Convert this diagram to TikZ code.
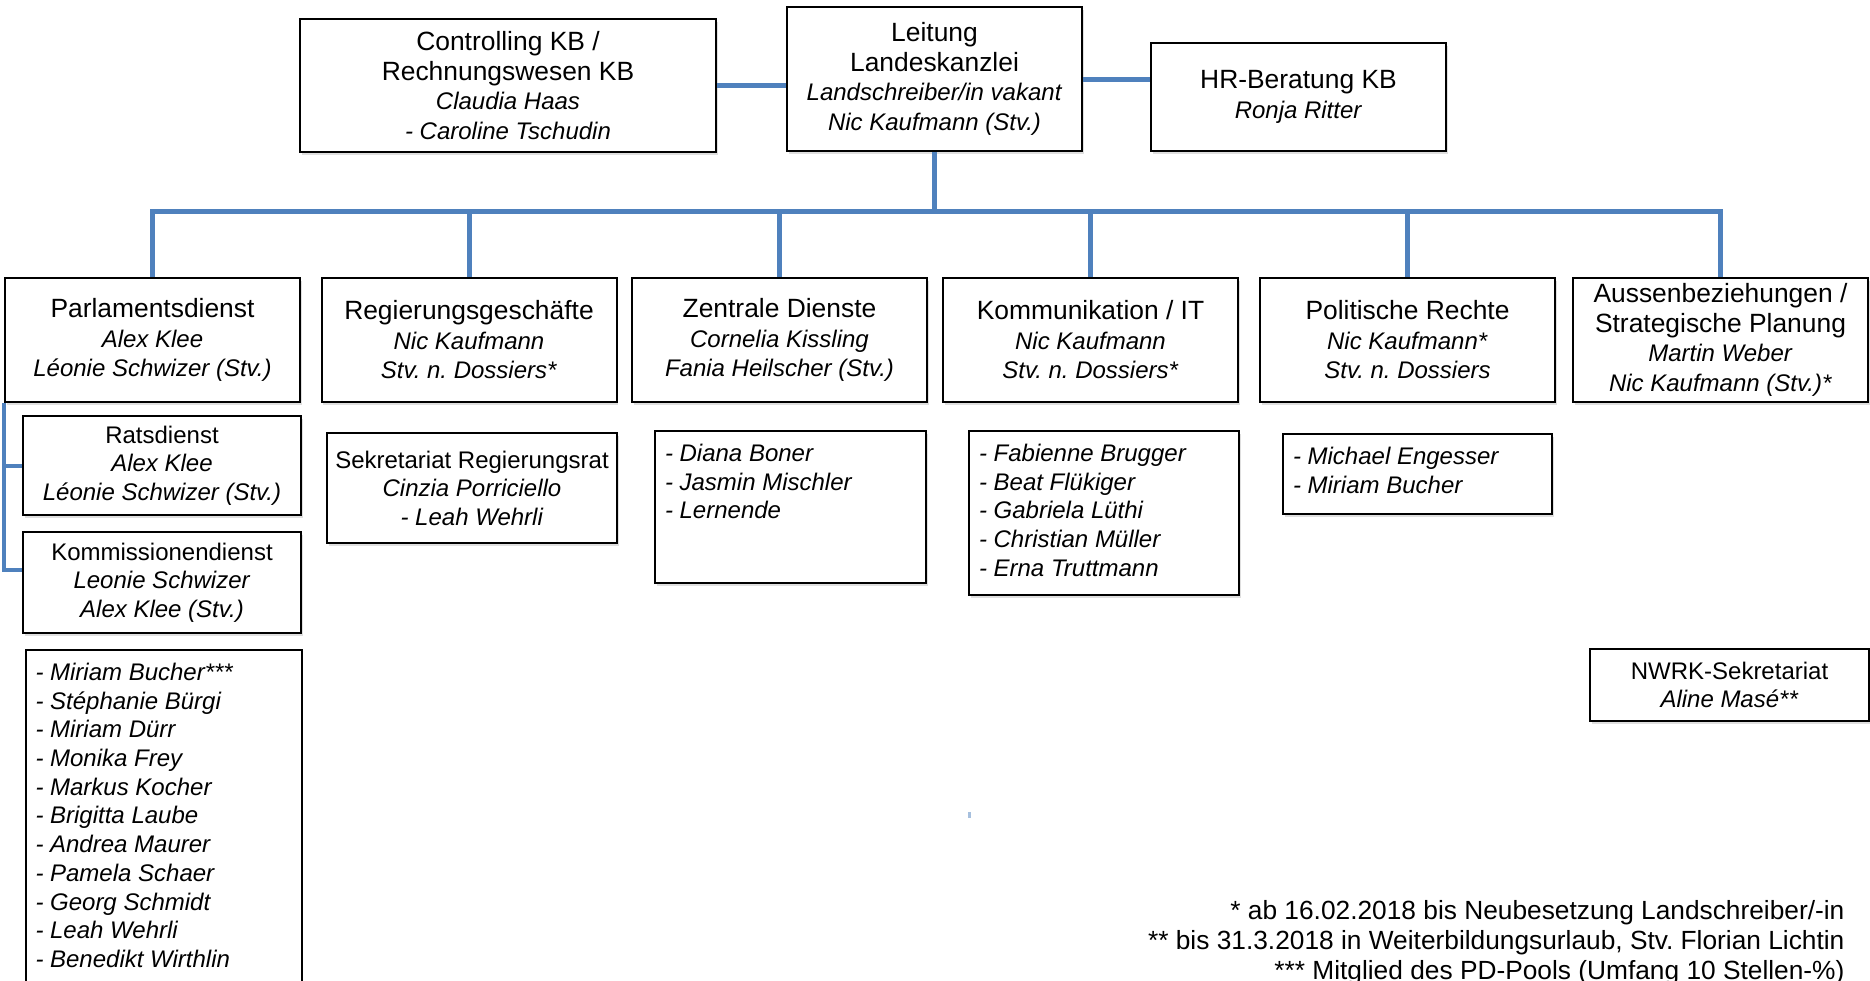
\documentclass[tikz,border=0pt]{standalone}
\usepackage{fontspec}
\setmainfont{Liberation Sans}
\usetikzlibrary{shadows}
\definecolor{lkblue}{RGB}{79,129,189}
\frenchspacing
\newcommand{\head}[1]{{\fontsize{26.4}{29.5}\selectfont #1}}
\newcommand{\namelist}[3]{\parbox[t][#1][t]{#2}{#3}}

\begin{document}
\begin{tikzpicture}[x=1pt, y=-1pt]
  \tikzset{
    unit/.style={draw=black, line width=2pt, fill=white, align=center, inner sep=0pt,
      drop shadow={shadow xshift=1.5pt, shadow yshift=-3pt, opacity=0.25},
      minimum width=295pt, minimum height=124pt, font=\fontsize{24}{29.5}\selectfont},
    subunit/.style={unit, font=\fontsize{24}{28.5}\selectfont},
    listbox/.style={unit, anchor=north west, align=left, inner xsep=10pt, inner ysep=13pt,
      minimum width=0pt, minimum height=0pt, font=\fontsize{24}{28.7}\selectfont\itshape},
    link/.style={draw=lkblue, line width=5pt, line join=miter}
  }
  \useasboundingbox (0,0) rectangle (1870,980);
  \node[unit, minimum width=416pt, minimum height=133pt] (ctrl) at (508,85.5)
    {\head{Controlling KB /}\\\head{Rechnungswesen KB}\\\textit{Claudia Haas}\\\textit{- Caroline Tschudin}};
  \node[unit, minimum height=144pt] (lead) at (934.5,79)
    {\head{Leitung}\\\head{Landeskanzlei}\\\textit{Landschreiber/in vakant}\\\textit{Nic Kaufmann (Stv.)}};
  \node[unit, minimum height=108pt] (hr) at (1298.5,97)
    {\head{HR-Beratung KB}\\\textit{Ronja Ritter}};
  \node[unit] (parl) at (152.5,340)
    {\head{Parlamentsdienst}\\\textit{Alex Klee}\\\textit{Léonie Schwizer (Stv.)}};
  \node[unit] (reg) at (469,340)
    {\head{Regierungsgeschäfte}\\\textit{Nic Kaufmann}\\\textit{Stv. n. Dossiers*}};
  \node[unit] (zd) at (779.5,340)
    {\head{Zentrale Dienste}\\\textit{Cornelia Kissling}\\\textit{Fania Heilscher (Stv.)}};
  \node[unit] (kit) at (1090.5,340)
    {\head{Kommunikation / IT}\\\textit{Nic Kaufmann}\\\textit{Stv. n. Dossiers*}};
  \node[unit] (pr) at (1407.5,340)
    {\head{Politische Rechte}\\\textit{Nic Kaufmann*}\\\textit{Stv. n. Dossiers}};
  \node[unit] (ab) at (1720.5,340)
    {\head{Aussenbeziehungen /}\\\head{Strategische Planung}\\\textit{Martin Weber}\\\textit{Nic Kaufmann (Stv.)*}};
  \node[subunit, minimum width=278pt, minimum height=99pt] (rat) at (162,465.5)
    {Ratsdienst\\\textit{Alex Klee}\\\textit{Léonie Schwizer (Stv.)}};
  \node[subunit, minimum width=278pt, minimum height=101pt] (kom) at (162,582.5)
    {Kommissionendienst\\\textit{Leonie Schwizer}\\\textit{Alex Klee (Stv.)}};
  \node[subunit, minimum width=290pt, minimum height=110pt] (sek) at (472,488)
    {Sekretariat Regierungsrat\\\textit{Cinzia Porriciello}\\\textit{- Leah Wehrli}};
  \node[subunit, minimum width=279pt, minimum height=72pt] (nwrk) at (1729.5,685)
    {NWRK-Sekretariat\\\textit{Aline Masé**}};
  \node[listbox] (parllist) at (24.5,649) {\namelist{315pt}{256pt}{- Miriam Bucher***\\- Stéphanie Bürgi\\- Miriam Dürr\\- Monika Frey\\- Markus Kocher\\- Brigitta Laube\\- Andrea Maurer\\- Pamela Schaer\\- Georg Schmidt\\- Leah Wehrli\\- Benedikt Wirthlin}};
  \node[listbox] (zdlist) at (654,430) {\namelist{126pt}{251pt}{- Diana Boner\\- Jasmin Mischler\\- Lernende}};
  \node[listbox] (kitlist) at (968,430) {\namelist{138pt}{250pt}{- Fabienne Brugger\\- Beat Flükiger\\- Gabriela Lüthi\\- Christian Müller\\- Erna Truttmann}};
  \node[listbox] (prlist) at (1282,433) {\namelist{54pt}{249pt}{- Michael Engesser\\- Miriam Bucher}};
  \node[align=right, anchor=east, font=\fontsize{26.3}{30}\selectfont] (notes) at (1848,943)
    {* ab 16.02.2018 bis Neubesetzung Landschreiber/-in\\** bis 31.3.2018 in Weiterbildungsurlaub, Stv. Florian Lichtin\\*** Mitglied des PD-Pools (Umfang 10 Stellen-\%)};
  \coordinate (bus) at (0,211);
  \draw[link] (ctrl.east) -- (ctrl.east -| lead.west);
  \draw[link] (lead.east) -- (lead.east -| hr.west);
  \draw[link] (lead.south) -- (lead.south |- bus);
  \draw[link] (parl.north) -- (parl.north |- bus) -- (ab.north |- bus) -- (ab.north);
  \foreach \n in {reg,zd,kit,pr}
    \draw[link] (\n.north |- bus) -- (\n.north);
  \draw[link, line width=4pt] (rat.west) -| (parl.south west) |- (kom.175);
  \fill[lkblue!50] (968,812) rectangle (970.5,818);
\end{tikzpicture}
\end{document}
